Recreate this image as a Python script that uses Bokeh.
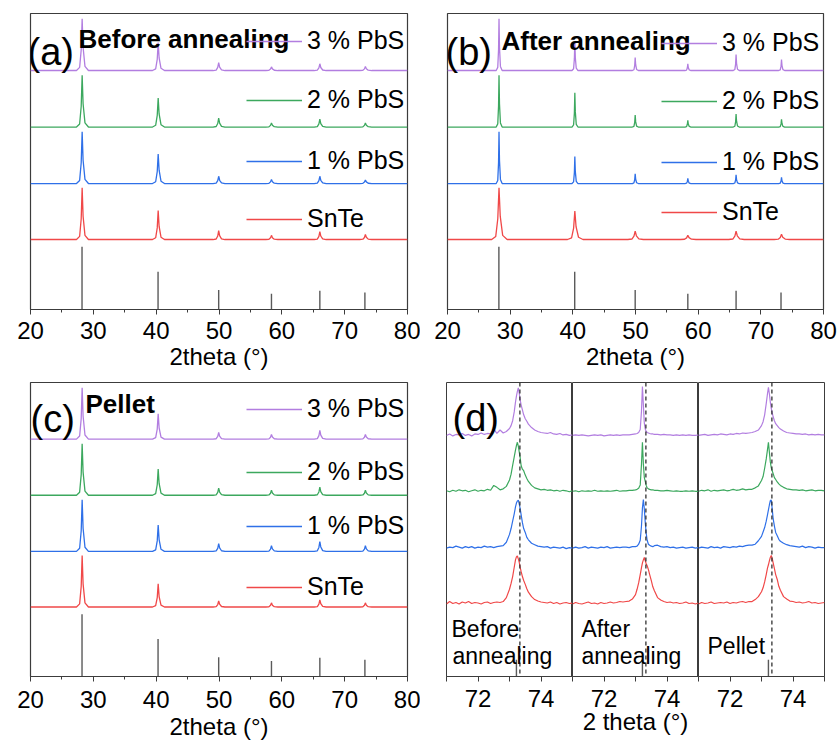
from bokeh.plotting import figure
from bokeh.layouts import row, column
from bokeh.models import (Range1d, SingleIntervalTicker, FixedTicker, Legend,
                          LegendItem, Label, Span)
from bokeh.embed import file_html
from bokeh.resources import INLINE

# ---------------- data ----------------
series_labels = ["SnTe", "1 % PbS", "2 % PbS", "3 % PbS"]

# reference (standard card) sticks
ref_pos = [28.2, 40.3, 49.95, 58.35, 66.05, 73.22]
ref_rel = [100, 60, 31, 25, 30, 27]

# measured pattern peak positions and relative heights (%)
pattern_pos = [28.22, 40.32, 49.95, 58.35, 66.05, 73.3]
a_red = [100, 56, 17, 8, 15, 10]
a_blue = [100, 57, 14, 8, 14, 7]
a_green = [100, 56, 17, 8, 15, 8]
a_purple = [100, 54, 15, 7, 13, 8]
b_red = [100, 55, 16, 8, 16, 10]
b_blue = [100, 52, 19, 10, 17, 12]
b_green = [100, 66, 23, 13, 25, 15]
b_purple = [100, 56, 25, 13, 31, 21]
c_red = [100, 45, 12, 8, 14, 8]
c_blue = [100, 51, 15, 11, 19, 11]
c_green = [100, 51, 14, 10, 16, 10]
c_purple = [100, 49, 13, 9, 17, 9]

# panel (d): zoom of the (422) peak, shared 2-theta grid
d_x = [71.0, 71.1, 71.2, 71.3, 71.4, 71.5, 71.6, 71.7, 71.8, 71.9, 72.0, 72.1,
       72.2, 72.3, 72.4, 72.5, 72.6,
       72.7, 72.8, 72.9, 73.0, 73.05, 73.1, 73.15, 73.19, 73.22, 73.25, 73.28,
       73.31, 73.34, 73.37, 73.41, 73.45, 73.5, 73.55, 73.6, 73.7, 73.8, 73.9,
       74.0, 74.1,
       74.2, 74.3, 74.4, 74.5, 74.6, 74.7, 74.8, 74.9, 75.0]
# before annealing
dB_red = [0.00, 0.05, 0.01, 0.03, 0.00, 0.04, 0.02, 0.05, 0.01, 0.03, 0.02, 0.00, 0.03, 0.04, 0.01, 0.03, 0.04,
          0.03, 0.05, 0.13, 0.30, 0.42, 0.56, 0.75, 0.90, 0.96, 0.98, 0.92, 0.85, 0.74, 0.66, 0.56, 0.48, 0.40,
          0.31, 0.24, 0.15, 0.09, 0.06, 0.04, 0.03,
          0.02, 0.04, 0.01, 0.03, 0.00, 0.02, 0.03, 0.01, 0.02]
dB_blue = [0.00, 0.02, 0.01, 0.04, 0.02, 0.00, 0.03, 0.01, 0.03, 0.00, 0.02, 0.01, 0.04, 0.02, 0.03, 0.01, 0.03,
           0.04, 0.05, 0.12, 0.28, 0.40, 0.55, 0.70, 0.84, 0.92, 0.96, 0.98, 0.90, 0.80, 0.68, 0.52, 0.40, 0.32,
           0.22, 0.17, 0.10, 0.07, 0.04, 0.03, 0.02,
           0.03, 0.00, 0.02, 0.01, 0.00, 0.02, -0.01, 0.01, 0.00]
dB_green = [0.01, -0.01, 0.02, 0.00, 0.03, 0.01, 0.02, -0.01, 0.01, 0.03, 0.00, 0.02, 0.01, 0.04, 0.02, 0.12, 0.08,
            0.03, 0.05, 0.10, 0.23, 0.35, 0.53, 0.70, 0.84, 0.93, 1.00, 0.92, 0.80, 0.68, 0.52, 0.45, 0.42, 0.33,
            0.26, 0.20, 0.12, 0.07, 0.05, 0.03, 0.04,
            0.02, 0.03, 0.01, 0.02, 0.00, 0.02, 0.01, -0.01, 0.01]
dB_purple = [0.00, 0.03, -0.01, 0.02, 0.01, 0.04, 0.00, 0.02, -0.01, 0.03, 0.02, 0.05, 0.02, 0.04, 0.03, 0.13, 0.04,
             0.11, 0.05, 0.08, 0.14, 0.20, 0.30, 0.48, 0.68, 0.80, 0.90, 0.97, 0.86, 0.72, 0.62, 0.52, 0.42, 0.34,
             0.29, 0.23, 0.16, 0.11, 0.08, 0.06, 0.05,
             0.04, 0.06, 0.03, 0.02, 0.04, 0.01, 0.02, 0.00, 0.01]
# after annealing
dA_red = [0.00, 0.03, 0.01, 0.00, 0.02, 0.04, 0.01, 0.02, 0.00, 0.03, 0.01, 0.02, 0.04, 0.02, 0.03, 0.05, 0.04,
          0.05, 0.06, 0.10, 0.19, 0.30, 0.43, 0.60, 0.74, 0.84, 0.90, 0.95, 0.88, 0.82, 0.78, 0.70, 0.60, 0.48,
          0.35, 0.27, 0.13, 0.08, 0.05, 0.03, 0.04,
          0.02, 0.03, 0.01, 0.02, 0.04, 0.01, 0.02, 0.00, 0.02]
dA_blue = [0.00, 0.02, 0.00, 0.01, 0.03, 0.00, 0.02, 0.01, 0.00, 0.02, 0.01, 0.03, 0.00, 0.01, 0.02, 0.01, 0.02,
           0.02, 0.01, 0.03, 0.03, 0.04, 0.08, 0.16, 0.45, 0.82, 0.99, 0.80, 0.52, 0.30, 0.16, 0.08, 0.06, 0.04,
           0.03, 0.05, 0.06, 0.03, 0.02, 0.03, 0.01,
           0.02, 0.00, 0.01, 0.02, 0.00, 0.01, 0.02, 0.00, 0.01]
dA_green = [0.00, 0.01, -0.01, 0.01, 0.00, 0.01, 0.00, 0.02, 0.00, 0.01, 0.00, 0.01, 0.00, 0.01, 0.02, 0.00, 0.01,
            0.01, 0.02, 0.02, 0.03, 0.04, 0.06, 0.13, 0.55, 1.00, 0.55, 0.28, 0.20, 0.12, 0.07, 0.05, 0.04, 0.03,
            0.03, 0.02, 0.02, 0.01, 0.01, 0.02, 0.01,
            0.00, 0.01, 0.00, 0.00, 0.01, 0.00, 0.01, 0.00, 0.00]
dA_purple = [0.00, 0.01, 0.00, 0.01, 0.00, -0.01, 0.00, 0.01, 0.00, 0.01, -0.01, 0.00, 0.01, 0.00, 0.01, 0.00, 0.01,
             0.01, 0.01, 0.02, 0.03, 0.04, 0.06, 0.12, 0.50, 1.00, 0.62, 0.25, 0.13, 0.08, 0.06, 0.05, 0.04, 0.03,
             0.03, 0.02, 0.02, 0.01, 0.02, 0.01, 0.01,
             0.00, 0.01, 0.00, 0.01, 0.00, 0.01, 0.00, 0.00, 0.01]
# pellet
dP_red = [0.00, 0.03, 0.01, 0.02, 0.04, 0.01, 0.02, 0.03, 0.02, 0.04, 0.01, 0.03, 0.02, 0.04, 0.05, 0.03, 0.05,
          0.05, 0.09, 0.15, 0.25, 0.33, 0.45, 0.60, 0.73, 0.80, 0.88, 0.95, 0.99, 0.93, 0.84, 0.72, 0.60, 0.50,
          0.36, 0.28, 0.15, 0.10, 0.06, 0.05, 0.03,
          0.04, 0.02, 0.03, 0.05, 0.02, 0.03, 0.01, 0.02, 0.03]
dP_blue = [0.00, 0.02, 0.01, 0.00, 0.03, 0.01, 0.02, 0.00, 0.03, 0.02, 0.01, 0.03, 0.02, 0.04, 0.03, 0.05, 0.06,
           0.06, 0.08, 0.15, 0.24, 0.33, 0.42, 0.55, 0.68, 0.78, 0.88, 0.97, 0.98, 0.80, 0.60, 0.45, 0.32, 0.25,
           0.18, 0.14, 0.10, 0.07, 0.05, 0.04, 0.03,
           0.02, 0.04, 0.01, 0.03, 0.02, 0.00, 0.02, 0.01, 0.01]
dP_green = [0.00, 0.02, 0.01, 0.03, 0.00, 0.02, 0.01, 0.02, 0.03, 0.01, 0.02, 0.04, 0.02, 0.03, 0.05, 0.03, 0.04,
            0.04, 0.07, 0.11, 0.22, 0.30, 0.47, 0.66, 0.85, 1.00, 0.80, 0.60, 0.48, 0.42, 0.36, 0.28, 0.24, 0.19,
            0.15, 0.12, 0.08, 0.05, 0.04, 0.03, 0.03,
            0.02, 0.03, 0.01, 0.02, 0.03, 0.01, 0.02, 0.02, 0.01]
dP_purple = [0.00, 0.01, 0.02, 0.00, 0.01, 0.02, 0.01, 0.03, 0.02, 0.01, 0.03, 0.02, 0.04, 0.03, 0.05, 0.04, 0.05,
             0.06, 0.08, 0.11, 0.20, 0.28, 0.42, 0.65, 0.85, 0.98, 0.85, 0.68, 0.55, 0.46, 0.38, 0.30, 0.24, 0.20,
             0.16, 0.13, 0.09, 0.06, 0.05, 0.04, 0.03,
             0.03, 0.02, 0.03, 0.01, 0.02, 0.01, 0.02, 0.01, 0.01]
d_dash_pos = 73.33

# ---------------- style ----------------
FONT = "Liberation Sans"
COLORS = ["#F04848", "#2F70E8", "#3CA85E", "#B27EE0"]   # red, blue, green, purple
FRAME = "#3c3c3c"
STICK = "#5a5a5a"
OFFSETS = [1.35, 2.43, 3.52, 4.61]
Y_TOP = 5.71
STICK_SCALE = 1.21 / 100.0
D_OFFSETS = [1.48, 2.62, 3.78, 4.92]
D_TOP = 6.0
D_STICK_SCALE = 1.26 / 100.0
# peak drawing profile (shape of one reflection)
PROFILE_DX = [-0.9, -0.4, -0.15, 0.0, 0.15, 0.45, 1.0]
PROFILE_F = [0.0, 0.06, 0.4, 1.0, 0.45, 0.08, 0.0]


def pattern_xy(heights, offset, w):
    xs, ys = [20.0], [offset]
    for pos, h in zip(pattern_pos, heights):
        for dx, f in zip(PROFILE_DX, PROFILE_F):
            xs.append(pos + dx * w)
            ys.append(offset + h / 100.0 * f)
    xs.append(80.0)
    ys.append(offset)
    return xs, ys


def style_axis(p, label, standoff=7, label_standoff=1, label_alpha=1.0, label_lh=1.2):
    ax = p.xaxis[0]
    ax.axis_label = label
    ax.axis_label_text_font = FONT
    ax.axis_label_text_font_size = "24px"
    ax.axis_label_text_font_style = "normal"
    ax.axis_label_text_color = "black"
    ax.axis_label_text_alpha = label_alpha
    ax.axis_label_text_line_height = label_lh
    ax.axis_label_standoff = label_standoff
    ax.major_label_text_font = FONT
    ax.major_label_text_font_size = "24px"
    ax.major_label_text_color = "black"
    ax.major_label_standoff = standoff
    ax.axis_line_color = FRAME
    ax.axis_line_width = 1.2
    ax.major_tick_line_color = FRAME
    ax.minor_tick_line_color = FRAME
    ax.major_tick_in = 0
    ax.major_tick_out = 5
    ax.minor_tick_in = 0
    ax.minor_tick_out = 3


def make_fig(width, height, xr, ytop, bl, br, bt, bb, outline_w=1.2):
    p = figure(width=width, height=height, x_range=Range1d(*xr),
               y_range=Range1d(0, ytop), y_axis_type=None,
               output_backend="svg", toolbar_location=None,
               min_border_left=bl, min_border_right=br,
               min_border_top=bt, min_border_bottom=bb)
    p.xgrid.visible = False
    p.ygrid.visible = False
    p.outline_line_color = FRAME
    p.outline_line_width = outline_w
    p.outline_line_alpha = 1.0
    p.background_fill_color = "white"
    p.border_fill_color = "white"
    return p


def add_label(p, x, y, text, size, bold=False):
    p.add_layout(Label(x=x, y=y, x_units="screen", y_units="screen", text=text,
                       text_font=FONT, text_font_size=size,
                       text_font_style="bold" if bold else "normal",
                       text_color="black", text_baseline="alphabetic"))


def main_panel(width, bl, br, bt, bb, height, series, widths, tag, title,
               tag_xy, title_xy, legend_x, legend_ys, axis_kw):
    p = make_fig(width, height, (20, 80), Y_TOP, bl, br, bt, bb)
    p.xaxis[0].ticker = SingleIntervalTicker(interval=10, num_minor_ticks=2)
    style_axis(p, "2theta (°)", **axis_kw)
    p.segment(x0=ref_pos, y0=[0] * len(ref_pos), x1=ref_pos,
              y1=[r * STICK_SCALE for r in ref_rel], line_color=STICK, line_width=1.4)
    renderers = []
    for heights, off, col, w in zip(series, OFFSETS, COLORS, widths):
        xs, ys = pattern_xy(heights, off, w)
        renderers.append(p.line(xs, ys, line_color=col, line_width=1.3))
    for r, lab, ly in zip(renderers, series_labels, legend_ys):
        lg = Legend(items=[LegendItem(label=lab, renderers=[r])], location=(legend_x, ly),
                    glyph_width=56, glyph_height=20, label_standoff=5, padding=0,
                    margin=0, spacing=0, border_line_alpha=0, background_fill_alpha=0,
                    label_text_font=FONT, label_text_font_size="25px",
                    label_text_color="black")
        p.add_layout(lg)
    add_label(p, tag_xy[0], tag_xy[1], tag, "38px")
    add_label(p, title_xy[0], title_xy[1], title, "26px", bold=True)
    return p


TOP_AXIS = dict(standoff=7, label_standoff=1)
BOTTOM_AXIS = dict(standoff=9, label_standoff=2, label_lh=0.8)

# top row: height 378, frames 13..310 ; bottom row starts at 378
pa = main_panel(420, 30, 13, 13, 68, 378, [a_red, a_blue, a_green, a_purple],
                [1.0, 1.0, 1.0, 1.0], "(a)", "Before annealing",
                (-3, 258), (48, 271), 216, [76, 134, 195, 254], TOP_AXIS)
pb = main_panel(420, 27, 17, 12, 69, 378, [b_red, b_blue, b_green, b_purple],
                [1.3, 0.5, 0.5, 0.5], "(b)", "After annealing",
                (-2, 258), (54, 269), 214, [83, 133, 194, 252], TOP_AXIS)
pc = main_panel(420, 30, 13, 4, 64, 364, [c_red, c_blue, c_green, c_purple],
                [1.0, 1.0, 1.0, 1.0], "(c)", "Pellet",
                (0, 258), (55, 273), 216, [75, 136, 190, 253], BOTTOM_AXIS)

d_series = [[dB_red, dB_blue, dB_green, dB_purple],
            [dA_red, dA_blue, dA_green, dA_purple],
            [dP_red, dP_blue, dP_green, dP_purple]]
d_specs = [(152, 26, 0), (126, 0, 0), (142, 0, 16)]
d_figs = []
for k, (ser, (w, bl, br)) in enumerate(zip(d_series, d_specs)):
    p = make_fig(w, 364, (71, 75), D_TOP, bl, br, 3, 61, outline_w=1.0)
    p.xaxis[0].ticker = FixedTicker(ticks=[72, 74], minor_ticks=[71, 73, 75])
    style_axis(p, "2 theta (°)", standoff=8, label_standoff=-2, label_lh=0.8,
               label_alpha=1.0 if k == 1 else 0.0)
    p.xaxis[0].minor_tick_out = 5
    p.segment(x0=ref_pos, y0=[0] * len(ref_pos), x1=ref_pos,
              y1=[r * D_STICK_SCALE for r in ref_rel], line_color=STICK, line_width=1.4)
    for ys, off, col in zip(ser, D_OFFSETS, COLORS):
        p.line(d_x, [off + v for v in ys], line_color=col, line_width=1.2)
    p.add_layout(Span(location=d_dash_pos, dimension="height", line_color="#303030",
                      line_width=1.3, line_dash="4 3"))
    d_figs.append(p)

add_label(d_figs[0], 6, 259, "(d)", "38px")
add_label(d_figs[0], 5, 48, "Before", "23px")
add_label(d_figs[0], 6, 21, "annealing", "23px")
add_label(d_figs[1], 9, 48, "After", "23px")
add_label(d_figs[1], 9, 21, "annealing", "23px")
add_label(d_figs[2], 9, 31, "Pellet", "23px")

layout = column(row(pa, pb), row(pc, *d_figs))
open("out.html", "w").write(file_html(layout, INLINE))
